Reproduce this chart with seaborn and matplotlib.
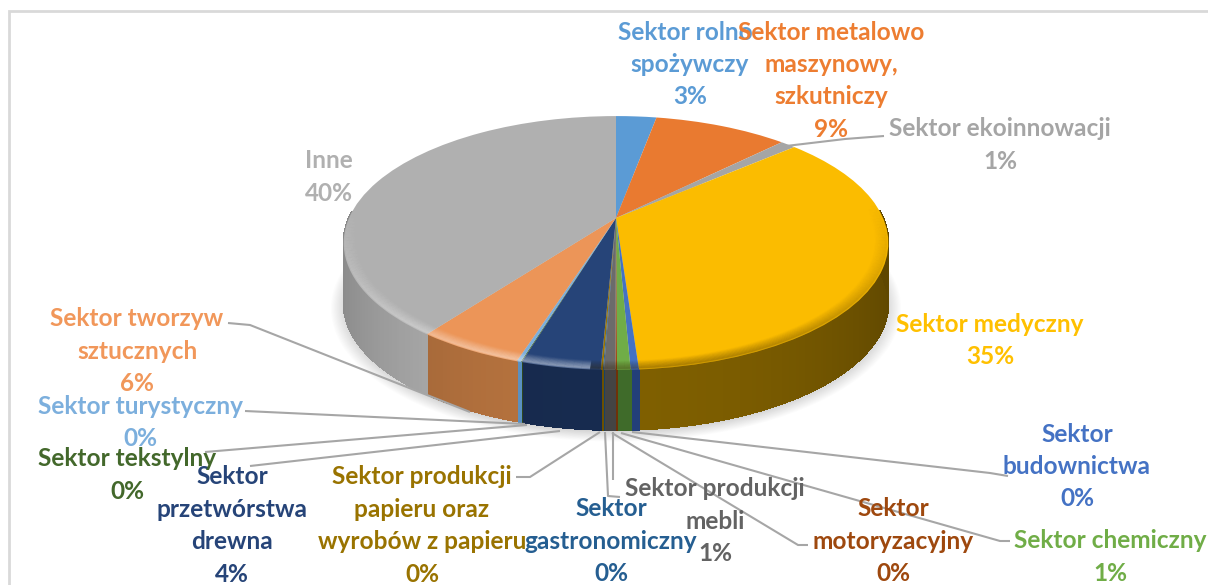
import numpy as np
import matplotlib
matplotlib.use("Agg")
import matplotlib.pyplot as plt
from matplotlib.collections import LineCollection, PolyCollection
from matplotlib.patches import Circle
from matplotlib.transforms import Transform
from matplotlib.colors import to_rgb
import seaborn as sns

# data
sectors = ["Sektor rolno-\nspożywczy", "Sektor metalowo\nmaszynowy,\nszkutniczy", "Sektor ekoinnowacji",
           "Sektor medyczny", "Sektor\nbudownictwa", "Sektor chemiczny", "Sektor\nmotoryzacyjny",
           "Sektor produkcji\nmebli", "Sektor\ngastronomiczny", "Sektor produkcji\npapieru oraz\nwyrobów z papieru",
           "Sektor\nprzetwórstwa\ndrewna", "Sektor tekstylny", "Sektor turystyczny",
           "Sektor tworzyw\nsztucznych", "Inne"]
values = [2.9, 9.6, 1.1, 35.3, 0.4, 0.65, 0.08, 0.55, 0.05, 0.1, 3.9, 0.05, 0.2, 5.3, 39.82]
percent_labels = ["3%", "9%", "1%", "35%", "0%", "1%", "0%", "1%", "0%", "0%", "4%", "0%", "0%", "6%", "40%"]

# styles
top_colors = ["#5b9bd5", "#e97a30", "#a5a5a5", "#fbbc00", "#4472c4", "#70ad47", "#9e480e", "#6b6b6b",
              "#255e91", "#997300", "#264478", "#43682b", "#7cafdd", "#ec9558", "#b0b0b0"]
wall_colors = ["#3a6a96", "#a85620", "#777777", "#7f5f00", "#233f7a", "#3f6b2a", "#6e3209", "#444444",
               "#1a4266", "#6b5000", "#172b4f", "#2f491e", "#5c93c4", "#b8743f", "#b5b5b5"]
text_colors = ["#5b9bd5", "#ed7d31", "#a5a5a5", "#ffc000", "#4472c4", "#70ad47", "#9e480e", "#636363",
               "#255e91", "#997300", "#264478", "#43682b", "#7cafdd", "#f1975a", "#b0b0b0"]

# label layout: centre x, y of first line (pixels)
label_pos = [(690, 32), (831, 32), (1000, 129), (990, 324), (1077, 434), (1110, 541), (893, 509),
             (715, 489), (611, 509), (422, 477), (232, 477), (127, 459), (140, 406), (137, 319), (329, 161)]
line_pitch = 32.4
draw_order = [0, 1, 2, 3, 4, 5, 6, 8, 7, 9, 10, 11, 12, 13, 14]

leaders = [
    [(786, 146), (845, 139), (884, 136)],
    [(228, 323), (250, 325), (470, 412)],
    [(245, 411), (525, 424)],
    [(205, 452), (527, 425)],
    [(250, 466), (560, 431)],
    [(516, 477), (530, 477), (600, 432)],
    [(605, 432), (608, 496), (620, 497)],
    [(613, 432), (613, 480)],
    [(612, 433), (798, 545), (808, 545)],
    [(621, 433), (1000, 541), (1010, 541)],
    [(632, 432), (990, 473), (1008, 476)],
]

# pie geometry, pixels
CX, CY = 616, 218
A, B, K = 122.0, 267.0, 0.197
DEPTH = 60


class Tilt(Transform):
    # unit pie seen in perspective, output in pixels
    input_dims = 2
    output_dims = 2

    def __init__(self, dy=0):
        super().__init__()
        self.dy = dy

    def transform_non_affine(self, values):
        v = np.asarray(values, dtype=float)
        w = 1 + K * v[:, 1]
        return np.column_stack([CX + B * v[:, 0] / w, CY + self.dy - A * v[:, 1] / w])


sns.set_theme(style="white")
plt.rcParams["font.family"] = ["Lato", "DejaVu Sans"]
palette = sns.color_palette(top_colors)

fig = plt.figure(figsize=(12.08, 5.85), dpi=100)
ax = fig.add_axes([0, 0, 1, 1])
wedges, _ = ax.pie(values, colors=palette, startangle=90, counterclock=False, radius=1,
                   wedgeprops={"linewidth": 0})
ax.set_aspect("auto")
ax.set_xlim(0, 1208)
ax.set_ylim(585, 0)
ax.axis("off")

top_tf = Tilt() + ax.transData

# soft shadow under the pie
for i in range(14):
    ax.add_patch(Circle((0, 0), 1.045 - i * 0.004, transform=Tilt(DEPTH + 3) + ax.transData,
                        facecolor="black", alpha=0.012, linewidth=0, zorder=1))

# side wall, thin strips with a horizontal gradient
polys, strip_colors = [], []
tilt = Tilt()
for w, col in zip(wedges, wall_colors):
    t1, t2 = sorted((w.theta1, w.theta2))
    n = max(2, int((t2 - t1) / 0.8) + 1)
    edges = np.radians(np.linspace(t1, t2, n))
    for a0, a1 in zip(edges[:-1], edges[1:]):
        if np.sin((a0 + a1) / 2) > 0.05:
            continue
        p = tilt.transform_non_affine(np.array([[np.cos(a0), np.sin(a0)], [np.cos(a1), np.sin(a1)]]))
        polys.append([p[0], p[1], p[1] + [0, DEPTH], p[0] + [0, DEPTH]])
        shade = 1 - 0.25 * abs(np.cos((a0 + a1) / 2)) ** 2
        strip_colors.append(tuple(np.array(to_rgb(col)) * shade))
ax.add_collection(PolyCollection(polys, facecolors=strip_colors, edgecolors=strip_colors,
                                 linewidths=0.8, antialiaseds=False, zorder=2))

# top face
for w in wedges:
    w.set_transform(top_tf)
    w.set_zorder(3)

# rim bevel
angles = np.radians(np.arange(150, 395, 1.5))
for r in np.arange(0.955, 0.998, 0.004):
    strength = (r - 0.95) / 0.05
    pts = np.column_stack([r * np.cos(angles), r * np.sin(angles)])
    segs = [pts[i:i + 2] for i in range(len(pts) - 1)]
    cols = []
    for a in angles[:-1]:
        fade = max(0.0, -np.sin(a) + 0.1) * strength
        if np.cos(a) < -0.1:
            cols.append((1, 1, 1, min(0.25, 0.22 * fade)))
        else:
            cols.append((0.2, 0.13, 0, min(0.2, 0.18 * fade)))
    ax.add_collection(LineCollection(segs, colors=cols, linewidths=1.5, transform=top_tf,
                                     capstyle="butt", zorder=4))

# leader lines
for line in leaders:
    xs, ys = zip(*line)
    ax.plot(xs, ys, color="#a6a6a6", lw=1.5, zorder=5, solid_capstyle="butt")

# labels
for i in draw_order:
    x, y = label_pos[i]
    for j, part in enumerate(sectors[i].split("\n") + [percent_labels[i]]):
        ax.text(x, y + j * line_pitch, part, color=text_colors[i], fontsize=17.6, fontweight="bold",
                ha="center", va="center", zorder=6 + i * 0.01)

# chart frame, cropped at the image edges
ax.plot([1208, 9, 9], [11, 11, 585], color="#d9d9d9", lw=2, zorder=0, solid_joinstyle="miter")

fig.savefig("out.png", dpi=100)
